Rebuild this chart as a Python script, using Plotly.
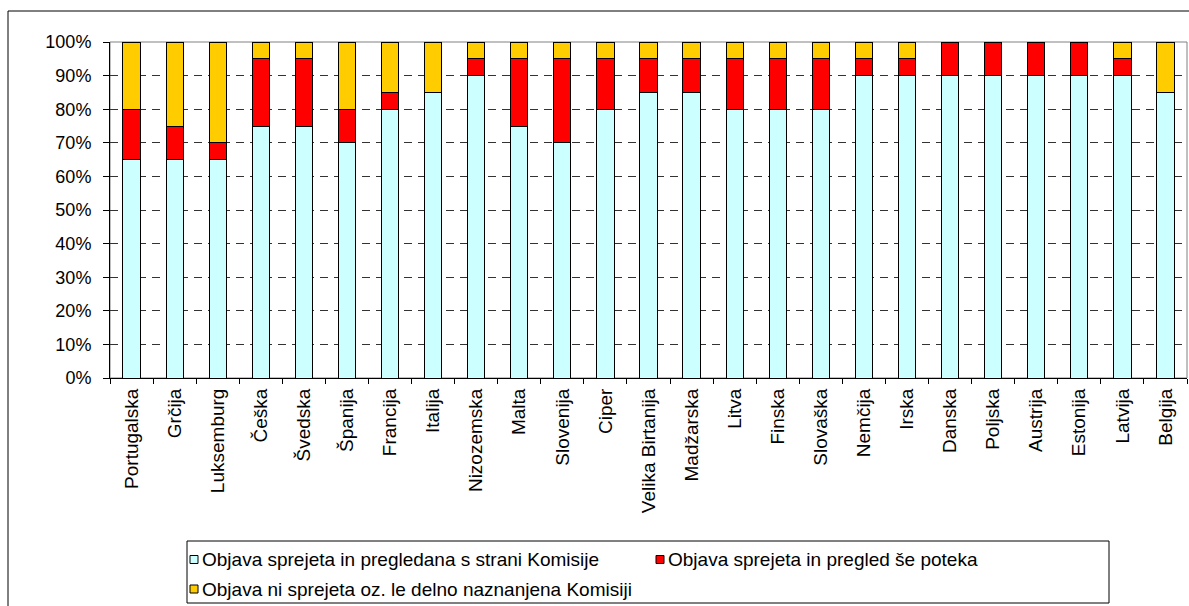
import plotly.graph_objects as go

# Member states, in display order
countries = [
    "Portugalska", "Grčija", "Luksemburg", "Češka", "Švedska", "Španija",
    "Francija", "Italija", "Nizozemska", "Malta", "Slovenija", "Ciper",
    "Velika Birtanija", "Madžarska", "Litva", "Finska", "Slovaška", "Nemčija",
    "Irska", "Danska", "Poljska", "Austrija", "Estonija", "Latvija", "Belgija",
]

# Share of publications (%) per status
accepted_reviewed = [65, 65, 65, 75, 75, 70, 80, 85, 90, 75, 70, 80, 85, 85,
                     80, 80, 80, 90, 90, 90, 90, 90, 90, 90, 85]
accepted_in_review = [15, 10, 5, 20, 20, 10, 5, 0, 5, 20, 25, 15, 10, 10,
                      15, 15, 15, 5, 5, 10, 10, 10, 10, 5, 0]
not_adopted = [20, 25, 30, 5, 5, 20, 15, 15, 5, 5, 5, 5, 5, 5,
               5, 5, 5, 5, 5, 0, 0, 0, 0, 5, 15]

series_names = [
    "Objava sprejeta in pregledana s strani Komisije",
    "Objava sprejeta in pregled še poteka",
    "Objava ni sprejeta oz. le delno naznanjena Komisiji",
]
series_values = [accepted_reviewed, accepted_in_review, not_adopted]
series_colors = ["#CCFFFF", "#FF0000", "#FFCC00"]

y_ticks = [0, 10, 20, 30, 40, 50, 60, 70, 80, 90, 100]
y_tick_labels = [f"{v}%" for v in y_ticks]

FONT = "Liberation Sans, Arial, sans-serif"
W, H = 1189, 606
M_L, M_R, M_T, M_B = 110, 2, 42, 228
PLOT_W = W - M_L - M_R
PLOT_H = H - M_T - M_B


def px_x(px):
    return (px - M_L) / PLOT_W


def px_y(py):
    return (H - M_B - py) / PLOT_H


fig = go.Figure()
for name, vals, col in zip(series_names, series_values, series_colors):
    fig.add_trace(go.Bar(
        x=countries, y=vals, name=name,
        marker=dict(color=col, line=dict(color="#000000", width=1)),
        showlegend=False,
    ))

shapes = [
    # outer chart frame
    dict(type="rect", xref="paper", yref="paper",
         x0=px_x(8), x1=px_x(W + 10), y0=px_y(H + 10), y1=px_y(11),
         line=dict(color="#000000", width=1), layer="below"),
    # plot-area border
    dict(type="rect", xref="paper", yref="paper", x0=0, x1=1, y0=0, y1=1,
         line=dict(color="#808080", width=1), layer="between"),
    # legend frame
    dict(type="rect", xref="paper", yref="paper",
         x0=px_x(187), x1=px_x(1109), y0=px_y(603), y1=px_y(541),
         line=dict(color="#000000", width=1), fillcolor="white", layer="above"),
]

annotations = []
# legend entries: (left x of swatch, centre y of row)
legend_pos = [(190, 559.5), (656, 559.5), (190, 589)]
for (lx, ly), name, col in zip(legend_pos, series_names, series_colors):
    shapes.append(dict(
        type="rect", xref="paper", yref="paper",
        x0=px_x(lx), x1=px_x(lx + 8), y0=px_y(ly + 4), y1=px_y(ly - 4),
        line=dict(color="#000000", width=1), fillcolor=col, layer="above",
    ))
    annotations.append(dict(
        xref="paper", yref="paper", x=px_x(lx + 10), y=px_y(ly),
        xanchor="left", yanchor="middle", text=name, showarrow=False,
        font=dict(family=FONT, size=19, color="#000000"),
    ))

fig.update_layout(
    width=W, height=H,
    margin=dict(l=M_L, r=M_R, t=M_T, b=M_B, pad=0),
    paper_bgcolor="white", plot_bgcolor="white",
    barmode="stack", bargap=0.6,
    shapes=shapes, annotations=annotations,
    font=dict(family=FONT, color="#000000"),
)

fig.update_xaxes(
    type="category", showline=True, linecolor="#000000", linewidth=1,
    ticks="outside", tickson="boundaries", ticklen=5, tickcolor="#000000",
    tickangle=-90, tickfont=dict(family=FONT, size=19, color="#000000"),
    ticklabelstandoff=2, showgrid=False,
)
fig.update_yaxes(
    range=[0, 100], tickvals=y_ticks, ticktext=y_tick_labels,
    showline=True, linecolor="#000000", linewidth=1,
    ticks="outside", ticklen=6, tickcolor="#000000",
    tickfont=dict(family=FONT, size=18, color="#000000"),
    ticklabelstandoff=8,
    showgrid=True, gridcolor="#333333", gridwidth=1, griddash="8px,6px",
    zeroline=False,
)

fig.write_html("out.html")
